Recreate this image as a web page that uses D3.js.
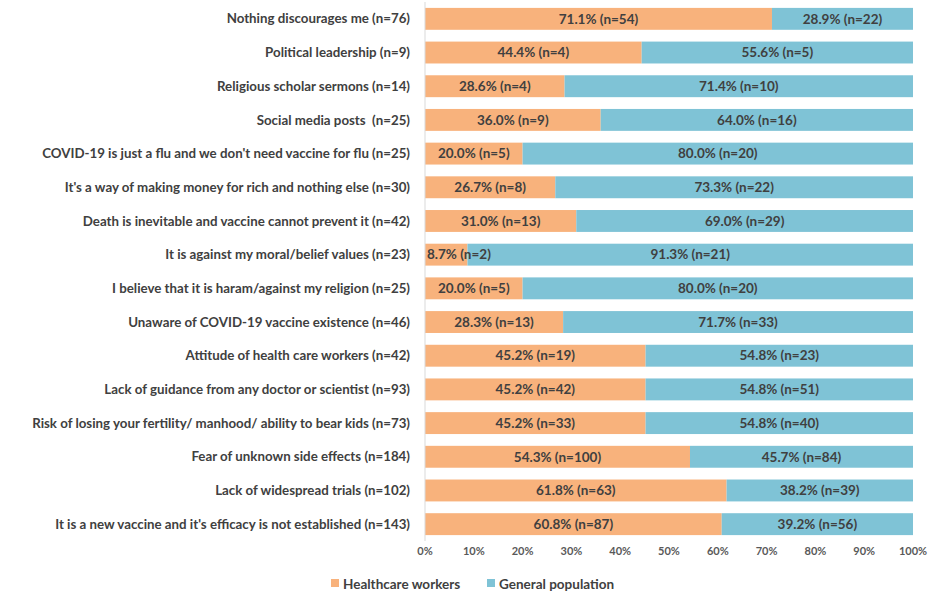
<!DOCTYPE html>
<html>
<head>
<meta charset="utf-8">
<script src="https://cdn.jsdelivr.net/npm/d3@7"></script>
<style>
  body { margin: 0; background: #fff; }
  svg { display: block; font-family: Lato, "Open Sans", sans-serif; }
</style>
</head>
<body>
<svg class="chart" width="937" height="594"></svg>
<script>
const WIDTH = 937;
const HEIGHT = 594;

const categories = [
  'Nothing discourages me (n=76)',
  'Political leadership (n=9)',
  'Religious scholar sermons (n=14)',
  'Social media posts  (n=25)',
  "COVID-19 is just a flu and we don't need vaccine for flu (n=25)",
  "It's a way of making money for rich and nothing else (n=30)",
  'Death is inevitable and vaccine cannot prevent it (n=42)',
  'It is against my moral/belief values (n=23)',
  'I believe that it is haram/against my religion (n=25)',
  'Unaware of COVID-19 vaccine existence (n=46)',
  'Attitude of health care workers (n=42)',
  'Lack of guidance from any doctor or scientist (n=93)',
  'Risk of losing your fertility/ manhood/ ability to bear kids (n=73)',
  'Fear of unknown side effects (n=184)',
  'Lack of widespread trials (n=102)',
  "It is a new vaccine and it's efficacy is not established (n=143)",
];
const hcwPct = [71.1, 44.4, 28.6, 36.0, 20.0, 26.7, 31.0, 8.7, 20.0, 28.3, 45.2, 45.2, 45.2, 54.3, 61.8, 60.8];
const hcwN = [54, 4, 4, 9, 5, 8, 13, 2, 5, 13, 19, 42, 33, 100, 63, 87];
const genPct = [28.9, 55.6, 71.4, 64.0, 80.0, 73.3, 69.0, 91.3, 80.0, 71.7, 54.8, 54.8, 54.8, 45.7, 38.2, 39.2];
const genN = [22, 5, 10, 16, 20, 22, 29, 21, 20, 33, 23, 51, 40, 84, 39, 56];
const seriesNames = ['Healthcare workers', 'General population'];
const ticks = [0, 10, 20, 30, 40, 50, 60, 70, 80, 90, 100];

const COLORS = ['#F8B27C', '#7FC3D6'];

const rows = categories.map((c, i) => ({
  cat: c,
  segs: [
    { s: 0, x0: 0, x1: hcwPct[i], pct: hcwPct[i], n: hcwN[i] },
    { s: 1, x0: hcwPct[i], x1: hcwPct[i] + genPct[i], pct: genPct[i], n: genN[i] },
  ],
}));

const x = d3.scaleLinear().domain([0, 100]).range([425, 913]);
const y = d3.scaleBand().domain(categories).range([2, 541]).paddingInner(0.35).paddingOuter(0.175);

const svg = d3.select('.chart');

// bars
const g = svg.selectAll('g.row').data(rows).enter().append('g')
  .attr('class', 'row')
  .attr('transform', (d) => `translate(0,${y(d.cat)})`);

g.selectAll('rect').data((d) => d.segs).enter().append('rect')
  .attr('x', (d) => x(d.x0))
  .attr('width', (d) => x(d.x1) - x(d.x0))
  .attr('height', y.bandwidth())
  .style('fill', (d) => COLORS[d.s]);

// segment labels
g.selectAll('text').data((d) => d.segs).enter().append('text')
  .attr('x', function (d) { return (x(d.x0) + x(d.x1)) / 2; })
  .attr('y', y.bandwidth() / 2)
  .attr('dy', '0.35em')
  .attr('text-anchor', 'middle')
  .style('font-size', '13.5px')
  .style('font-weight', 'bold')
  .style('fill', '#404040')
  .text((d) => `${d.pct.toFixed(1)}% (n=${d.n})`)
  .each(function (d) {
    // keep label inside the plot when segment is too narrow
    const w = this.getComputedTextLength();
    const cx = (x(d.x0) + x(d.x1)) / 2;
    if (cx - w / 2 < x(0) + 2) {
      d3.select(this).attr('text-anchor', 'start').attr('x', x(0) + 2);
    }
  });

// category labels
svg.append('g').selectAll('text').data(categories).enter().append('text')
  .attr('x', 410)
  .attr('y', (d) => y(d) + y.bandwidth() / 2)
  .attr('dy', '0.35em')
  .attr('text-anchor', 'end')
  .style('font-size', '13.3px')
  .style('font-weight', 'bold')
  .style('fill', '#404040')
  .style('white-space', 'pre')
  .text((d) => d);

// left axis line
svg.append('line')
  .attr('x1', x(0)).attr('x2', x(0))
  .attr('y1', 2).attr('y2', 541)
  .style('stroke', '#d9d9d9')
  .style('stroke-width', 1);

// x tick labels
svg.append('g').selectAll('text').data(ticks).enter().append('text')
  .attr('x', (d) => x(d))
  .attr('y', 555)
  .attr('text-anchor', 'middle')
  .style('font-size', '11px')
  .style('font-weight', 'bold')
  .style('fill', '#595959')
  .text((d) => `${d}%`);

// legend
const legendX = [331, 487];
const lg = svg.append('g').selectAll('g').data(seriesNames).enter().append('g')
  .attr('transform', (d, i) => `translate(${legendX[i]},589)`);
lg.append('rect')
  .attr('x', 0).attr('y', -10)
  .attr('width', 8).attr('height', 8)
  .style('fill', (d, i) => COLORS[i]);
lg.append('text')
  .attr('x', 12).attr('y', 0)
  .style('font-size', '13.5px')
  .style('font-weight', 'bold')
  .style('fill', '#404040')
  .text((d) => d);
</script>
</body>
</html>
